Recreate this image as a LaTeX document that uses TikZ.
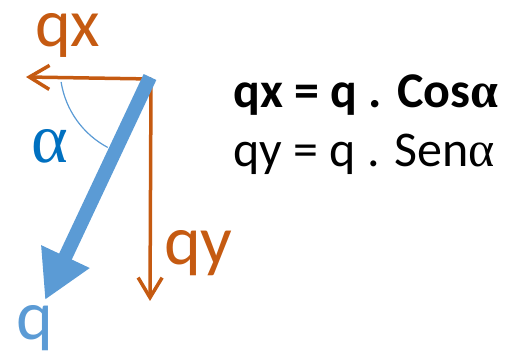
\documentclass[tikz,border=0pt]{standalone}
\usepackage{fontspec}
\setmainfont{Carlito}
\newfontfamily\serifgreek{Liberation Serif}
\usepackage{xcolor}
\usetikzlibrary{arrows.meta}
\definecolor{compcolor}{RGB}{197,90,17}
\definecolor{forcecolor}{RGB}{91,155,213}
\definecolor{anglecolor}{RGB}{0,112,192}

\begin{document}
\begin{tikzpicture}[x=1pt,y=1pt,>={Straight Barb[length=20pt,width=24pt]}]
  \useasboundingbox (0,0) rectangle (520,358);
  \coordinate (O) at (151,279);
  \coordinate (qxtip) at (26,281);
  \coordinate (qytip) at (150,57);
  \coordinate (qtip) at (45,58);
  % components
  \draw[->,compcolor,line width=3.5pt] (O) -- (qxtip);
  \draw[->,compcolor,line width=3.5pt] (O) -- (qytip);
  % force
  \draw[-{Triangle[length=48pt,width=50pt]},forcecolor,line width=14pt] (150,281) -- (qtip);
  % angle
  \draw[forcecolor,line width=1.2pt] (150,290) ++(188.9:90) arc[start angle=188.9,end angle=242,radius=90];
  \node[inner sep=0,anchor=base west,text height=34pt,text=compcolor,font=\fontsize{68}{68}\selectfont] (qxlabel) at (35,311) {qx};
  \node[inner sep=0,anchor=base west,text=compcolor,font=\fontsize{70}{70}\selectfont] (qylabel) at (164,93) {qy};
  \node[inner sep=0,anchor=base west,text=anglecolor,font=\fontsize{70}{70}\serifgreek] (alabel) at (31,195) {α};
  \node[inner sep=0,anchor=base west,text=forcecolor,font=\fontsize{70}{70}\selectfont] (qlabel) at (16,18) {q};
  \node[inner sep=0,anchor=base west,font=\fontsize{50}{50}\selectfont\bfseries] (eqx) at (233,250) {qx = q . Cos{\serifgreek α}};
  \node[inner sep=0,anchor=base west,font=\fontsize{50}{50}\selectfont] (eqy) at (233,191) {qy = q . Sen{\serifgreek α}};
\end{tikzpicture}
\end{document}
